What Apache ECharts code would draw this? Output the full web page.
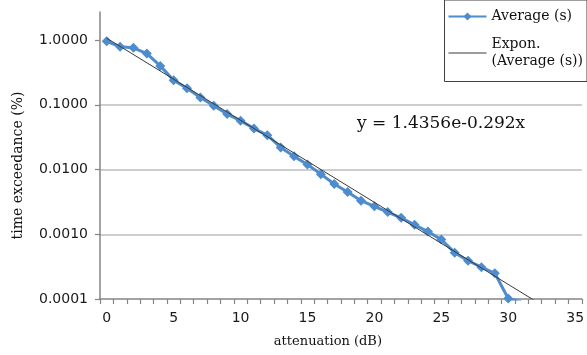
<!DOCTYPE html>
<html>
<head>
<meta charset="utf-8">
<script src="https://cdn.jsdelivr.net/npm/echarts@6/dist/echarts.min.js"></script>
<style>
  html, body { margin: 0; padding: 0; background: #ffffff; }
  #chart { width: 587px; height: 355px; }
</style>
</head>
<body>
<div id="chart"></div>
<script>
// Attenuation categories (dB), one per tick interval on the x axis
const attenuation = ['0','1','2','3','4','5','6','7','8','9','10','11','12','13','14','15','16','17','18','19','20','21','22','23','24','25','26','27','28','29','30','31','32','33','34','35'];

// Time exceedance (%) of the averaged measurement
const averageS = [0.96, 0.79, 0.76, 0.62, 0.40, 0.24, 0.18, 0.13, 0.097, 0.072,
                  0.057, 0.043, 0.034, 0.022, 0.016, 0.012, 0.0085, 0.0060, 0.0045, 0.0033,
                  0.0027, 0.0022, 0.0018, 0.0014, 0.0011, 0.00083, 0.00052, 0.00039, 0.00031, 0.00025,
                  0.000102, 0.00009];

// Exponential trend y = a * e^(-b x), x counted 1, 2, 3 ... along the categories
const trendA = 1.4356;
const trendB = 0.292;
const trendX = [1, 33];

// Decade ticks of the logarithmic y axis
const yTicks = [0.0001, 0.001, 0.01, 0.1, 1];
const yMin = 0.0001;
const yMax = 2.72;

const serif = 'DejaVu Serif';
const sans = 'DejaVu Sans';
const blue = '#4e8cce';
const trendColor = '#3a3a3a';

const trendData = trendX.map(x => [x, trendA * Math.exp(-trendB * x)]);

const chart = echarts.init(document.getElementById('chart'), null, { renderer: 'canvas' });

chart.setOption({
  backgroundColor: '#ffffff',
  animation: false,
  title: {
    text: 'y = ' + trendA + 'e-' + trendB + 'x',
    left: 352,
    top: 110,
    textStyle: { fontFamily: serif, fontSize: 17, fontWeight: 'normal', color: '#111111' }
  },
  legend: {
    orient: 'vertical',
    right: 0,
    top: 0,
    padding: [8, 4, 3, 3],
    itemGap: 2.5,
    itemWidth: 38,
    itemHeight: 10,
    borderColor: '#404040',
    borderWidth: 1,
    backgroundColor: 'transparent',
    textStyle: { fontFamily: serif, fontSize: 14, color: '#111111', lineHeight: 17 },
    data: [
      { name: 'Average (s)' },
      {
        name: 'Expon.\n(Average (s))',
        // a plain thin stroke, aligned with the first text line
        icon: 'path://M0,0 H38 V1 H0 Z',
        itemStyle: { color: trendColor },
        textStyle: { padding: [17, 0, 0, 0] }
      }
    ]
  },
  grid: { left: 100, right: 1, top: 12, bottom: 56, containLabel: false },
  xAxis: [
    {
      type: 'category',
      data: attenuation,
      boundaryGap: true,
      name: 'attenuation (dB)',
      nameLocation: 'middle',
      nameGap: 36,
      nameTextStyle: { fontFamily: serif, fontSize: 13, color: '#111111', padding: [0, 26, 0, 0] },
      axisLine: { lineStyle: { color: '#858585', width: 1.5 } },
      axisTick: { show: true, interval: 0, length: 5, lineStyle: { color: '#858585', width: 1.2 } },
      axisLabel: {
        interval: (i) => i % 5 === 0,
        margin: 12,
        fontFamily: sans,
        fontSize: 14,
        color: '#1a1a1a'
      },
      splitLine: { show: false }
    },
    {
      type: 'value',
      show: false,
      min: 0.5,
      max: 36.5
    }
  ],
  yAxis: {
    type: 'log',
    logBase: 10,
    min: yMin,
    max: yMax,
    name: 'time exceedance (%)',
    nameLocation: 'middle',
    nameGap: 75,
    nameTextStyle: { fontFamily: serif, fontSize: 14, color: '#111111', padding: [0, 20, 0, 0] },
    axisLine: { show: true, lineStyle: { color: '#858585', width: 1.5 } },
    axisTick: { show: true, length: 5, customValues: yTicks, lineStyle: { color: '#858585', width: 1.2 } },
    axisLabel: {
      customValues: yTicks,
      margin: 12,
      fontFamily: sans,
      fontSize: 14,
      color: '#1a1a1a',
      formatter: (v) => Number(v).toFixed(4)
    },
    splitLine: { show: true, showMaxLine: false, showMinLine: false, lineStyle: { color: '#bcbcbc', width: 1.5 } }
  },
  series: [
    {
      name: 'Average (s)',
      type: 'line',
      data: averageS,
      symbol: 'diamond',
      symbolSize: 10,
      showAllSymbol: true,
      clip: true,
      lineStyle: { color: blue, width: 3 },
      itemStyle: { color: blue },
      z: 2
    },
    {
      name: 'Expon.\n(Average (s))',
      type: 'line',
      xAxisIndex: 1,
      data: trendData,
      symbol: 'none',
      clip: true,
      lineStyle: { color: trendColor, width: 1 },
      itemStyle: { color: trendColor },
      z: 3
    }
  ]
});
</script>
</body>
</html>
